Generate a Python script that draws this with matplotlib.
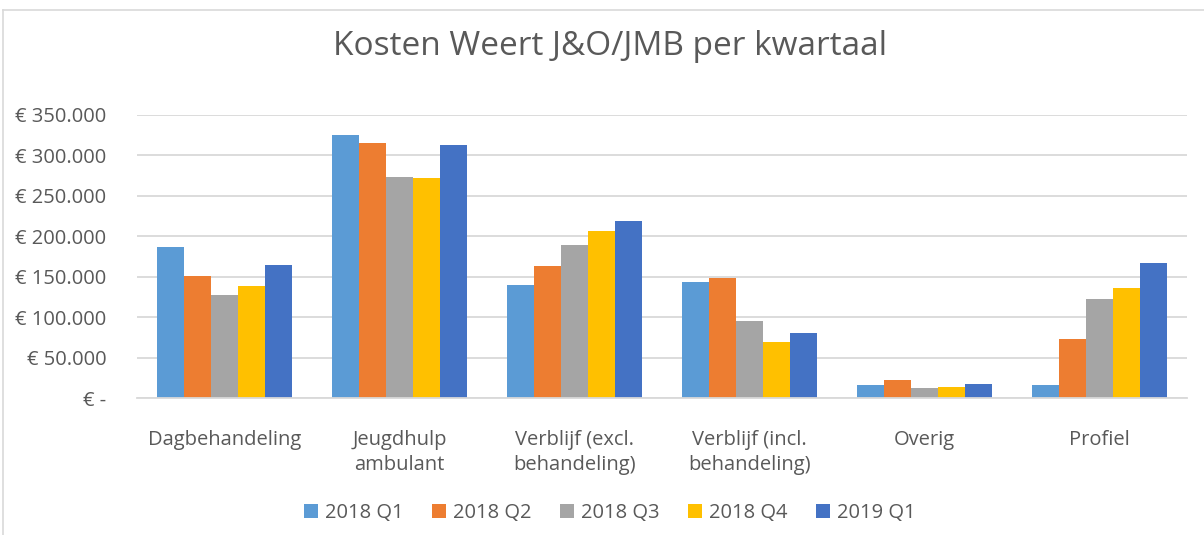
import matplotlib
matplotlib.use("Agg")
import matplotlib.pyplot as plt
import numpy as np
from matplotlib.lines import Line2D
from matplotlib.patches import Patch

categories = ["Dagbehandeling", "Jeugdhulp\nambulant", "Verblijf (excl.\nbehandeling)",
              "Verblijf (incl.\nbehandeling)", "Overig", "Profiel"]
series_names = ["2018 Q1", "2018 Q2", "2018 Q3", "2018 Q4", "2019 Q1"]
q1_2018 = [186700, 324900, 139800, 143500, 16500, 16500]
q2_2018 = [150900, 315000, 163300, 148500, 22600, 73200]
q3_2018 = [127500, 273100, 189200, 95400, 12700, 122600]
q4_2018 = [138600, 271900, 206500, 69500, 14000, 136100]
q1_2019 = [164500, 312600, 218800, 80600, 17700, 167000]
yticks = [0, 50000, 100000, 150000, 200000, 250000, 300000, 350000]
ytick_labels = ["€ -", "€ 50.000", "€ 100.000", "€ 150.000", "€ 200.000",
                "€ 250.000", "€ 300.000", "€ 350.000"]
title = "Kosten Weert J&O/JMB per kwartaal"

series = [q1_2018, q2_2018, q3_2018, q4_2018, q1_2019]
colors = ["#5B9BD5", "#ED7D31", "#A5A5A5", "#FFC000", "#4472C4"]
text_color = "#595959"

plt.rcParams['font.family'] = ['Open Sans', 'DejaVu Sans']

fig = plt.figure(figsize=(12.04, 5.35), dpi=100)
ax = fig.add_axes([137/1204, 1-398/535, 1050/1204, 283/535])

x = np.arange(len(categories))
bw = 0.154
for i, (vals, c) in enumerate(zip(series, colors)):
    ax.bar(x + (i - 2) * bw, vals, width=bw, color=c, zorder=3, label=series_names[i])

ax.set_xlim(-0.5, len(categories) - 0.5)
ax.set_ylim(0, 350000)
ax.set_yticks(yticks)
ax.set_yticklabels(ytick_labels)
ax.set_xticks(x)
ax.set_xticklabels(categories, linespacing=1.35)
ax.tick_params(axis='both', length=0, colors=text_color, labelsize=14.5)
ax.tick_params(axis='y', pad=22)
ax.tick_params(axis='x', pad=23)
for lab in ax.get_xticklabels():
    lab.set_verticalalignment('top')
ax.grid(axis='y', color="#D9D9D9", linewidth=1.3, zorder=0)
for s in ['top', 'right', 'left']:
    ax.spines[s].set_visible(False)
ax.spines['bottom'].set_color("#D9D9D9")
ax.spines['bottom'].set_linewidth(1.3)
ax.spines['bottom'].set_zorder(4)

fig.text(610/1204, 1-47/535, title, ha='center', va='center', fontsize=24, color=text_color)

handles = [Patch(facecolor=c, edgecolor='none') for c in colors]
fig.legend(handles, series_names, loc='center', bbox_to_anchor=(610/1204, 1-513/535),
           ncol=5, frameon=False, fontsize=14.5, labelcolor=text_color,
           handlelength=0.7, handleheight=0.7, handletextpad=0.35, columnspacing=1.4)

fig.add_artist(Line2D([3/1204, 1], [1-10/535, 1-10/535], color="#D9D9D9", linewidth=1.2))
fig.add_artist(Line2D([3/1204, 3/1204], [0, 1-10/535], color="#D9D9D9", linewidth=1.2))

fig.savefig("out.png", dpi=100)
